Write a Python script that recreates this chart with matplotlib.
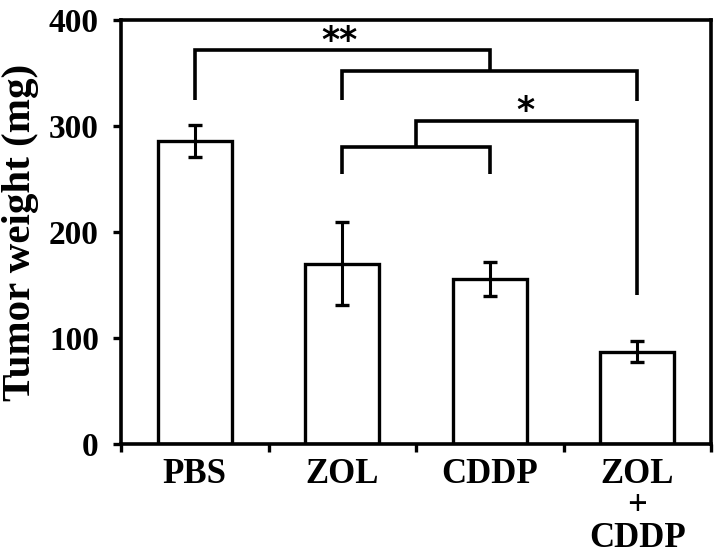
import numpy as np
import matplotlib
matplotlib.use("Agg")
import matplotlib.pyplot as plt

# group labels, mean tumour weight (mg) and error (mg)
GROUPS = ["PBS", "ZOL", "CDDP", "ZOL\n+\nCDDP"]
WEIGHT = [286, 170, 156, 87]
ERR = [15, 39, 16, 10]

# significance brackets
# "**": PBS vs {ZOL, ZOL+CDDP};  "*": {ZOL, CDDP} vs ZOL+CDDP
SIG_TOP = 372          # ** outer bracket height
SIG_TOP_SUB = 352      # inner bracket joining ZOL and ZOL+CDDP
SIG_TOP_LEGS = [325, 325, 324]
SIG_LOW = 305          # * outer bracket height
SIG_LOW_SUB = 280      # inner bracket joining ZOL and CDDP
SIG_LOW_LEGS = [255, 255, 141]

plt.rcParams["font.family"] = ["Liberation Serif", "DejaVu Serif"]
plt.rcParams["font.weight"] = "bold"

fig = plt.figure(figsize=(7.22, 5.56), dpi=100)
ax = fig.add_axes([0.1676, 0.2014, 0.8172, 0.7626])

x = np.arange(len(GROUPS))
ax.bar(x, WEIGHT, width=0.5, color="white", edgecolor="black", linewidth=2.4, zorder=2)
ax.errorbar(x, WEIGHT, yerr=ERR, fmt="none", ecolor="black", elinewidth=2.2,
            capsize=5, capthick=2.4, zorder=3)

kw = dict(color="black", lw=2.6, solid_capstyle="butt", solid_joinstyle="miter")
# ** bracket
ax.plot([x[0], x[0], 2, 2], [SIG_TOP_LEGS[0], SIG_TOP, SIG_TOP, SIG_TOP_SUB], **kw)
ax.plot([x[1], x[1], x[3], x[3]], [SIG_TOP_LEGS[1], SIG_TOP_SUB, SIG_TOP_SUB, SIG_TOP_LEGS[2]], **kw)
# * bracket
ax.plot([x[1], x[1], x[2], x[2]], [SIG_LOW_LEGS[0], SIG_LOW_SUB, SIG_LOW_SUB, SIG_LOW_LEGS[1]], **kw)
ax.plot([1.5, 1.5, x[3], x[3]], [SIG_LOW_SUB, SIG_LOW, SIG_LOW, SIG_LOW_LEGS[2]], **kw)

star_kw = dict(ha="center", va="center", fontsize=25, fontweight="bold",
               family=["DejaVu Sans"])
ax.text(0.98, 380, "**", **star_kw)
ax.text(2.24, 314, "*", **star_kw)

ax.set_xlim(-0.5, 3.5)
ax.set_ylim(0, 400)
ax.set_yticks([0, 100, 200, 300, 400])
ax.set_xticks(x)
ax.set_xticklabels(GROUPS, fontsize=25, fontweight="bold", linespacing=0.97, va="top")
ax.set_xticks(np.arange(-0.5, 4, 1), minor=True)
ax.tick_params(axis="x", which="major", length=0, pad=10)
ax.tick_params(axis="x", which="minor", length=6, width=2.4, direction="out")
ax.tick_params(axis="y", length=6, width=2.4, direction="out", labelsize=24, pad=10)
for lab in ax.get_yticklabels():
    lab.set_fontweight("bold")
for sp in ax.spines.values():
    sp.set_linewidth(2.6)
ax.set_ylabel("Tumor weight (mg)", fontsize=29.5, fontweight="bold", labelpad=7)

fig.savefig("out.png", dpi=100)
